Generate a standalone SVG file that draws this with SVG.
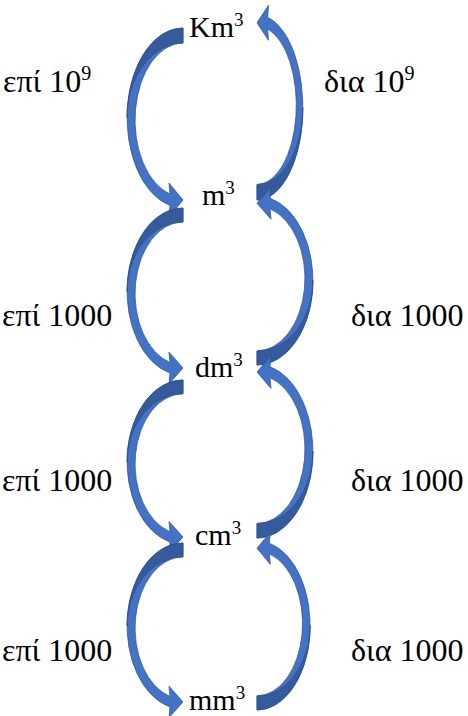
<svg xmlns="http://www.w3.org/2000/svg" width="468" height="716" viewBox="0 0 468 716">
<style>
.t{font-family:"Liberation Serif","Times New Roman",serif;font-size:30px;fill:#000}
.s{font-family:"Liberation Serif","Times New Roman",serif;font-size:32px;fill:#000}
.sup{font-size:19px}
.sup2{font-size:20px}
.body{fill:#4472C4;stroke:#2F528F;stroke-width:0.75}
.shade{fill:#365B9D;stroke:#2F528F;stroke-width:0.75}
</style>
<defs>
<g id="arr">
<path class="body" vector-effect="non-scaling-stroke" d="M0,0 A56,90 0 0 0 -13,177.5 L-14,189 L0,172 L-14,155 L-13,166.1 A48,77 0 0 1 0,15 Z"/>
<path class="shade" vector-effect="non-scaling-stroke" d="M0,0 A56,90 0 0 0 -56,90 A56,75 0 0 1 0,15 Z"/>
</g>
</defs>
<g id="connectors">
<use href="#arr" transform="translate(183,28) scale(1,1)"/>
<use href="#arr" transform="translate(183,208) scale(1,0.93)"/>
<use href="#arr" transform="translate(183,380) scale(1,0.913)"/>
<use href="#arr" transform="translate(183,543) scale(1,0.924)"/>
<use href="#arr" transform="translate(257,200) scale(-0.82,-1.03)"/>
<use href="#arr" transform="translate(257,365) scale(-1,-0.94)"/>
<use href="#arr" transform="translate(257,538) scale(-1,-0.965)"/>
<use href="#arr" transform="translate(257,710) scale(-0.95,-0.94)"/>
</g>
<g id="km3"><text class="t" x="189" y="37">Km<tspan class="sup" dy="-11">3</tspan></text></g>
<g id="m3"><text class="t" x="202" y="205">m<tspan class="sup" dy="-11">3</tspan></text></g>
<g id="dm3"><text class="t" x="195" y="377">dm<tspan class="sup" dy="-11">3</tspan></text></g>
<g id="cm3"><text class="t" x="195" y="545">cm<tspan class="sup" dy="-11">3</tspan></text></g>
<g id="mm3"><text class="t" x="189" y="710">mm<tspan class="sup" dy="-11">3</tspan></text></g>
<g id="labels">
<text class="s" x="3" y="92">επί 10<tspan class="sup2" dy="-12">9</tspan></text>
<text class="s" x="324" y="92">δια 10<tspan class="sup2" dy="-12">9</tspan></text>
<text class="s" x="2" y="326">επί 1000</text>
<text class="s" x="351" y="326">δια 1000</text>
<text class="s" x="2" y="491">επί 1000</text>
<text class="s" x="351" y="491">δια 1000</text>
<text class="s" x="2" y="661">επί 1000</text>
<text class="s" x="351" y="661">δια 1000</text>
</g>
</svg>
